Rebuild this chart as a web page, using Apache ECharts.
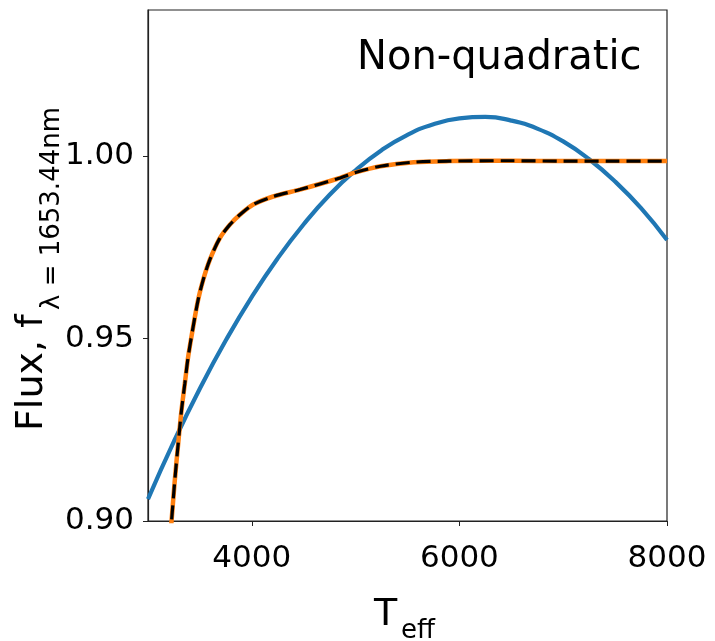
<!DOCTYPE html>
<html>
<head>
<meta charset="utf-8">
<script src="https://cdn.jsdelivr.net/npm/echarts@6/dist/echarts.min.js"></script>
<style>
  html, body { margin: 0; padding: 0; background: #fff; }
  #chart { width: 715px; height: 641px; }
</style>
</head>
<body>
<div id="chart"></div>
<script>
// quadratic fit (blue)
const teffQuad = [3000, 3250, 3500, 3750, 4000, 4250, 4500, 4750, 5000, 5250, 5500,
                  5750, 6000, 6250, 6500, 6750, 7000, 7250, 7500, 7750, 8000];
const fluxQuad = [0.9060, 0.9218, 0.9363, 0.9495, 0.9614, 0.9720, 0.9813, 0.9894, 0.9961, 1.0016, 1.0058,
                  1.0087, 1.0103, 1.0107, 1.0097, 1.0075, 1.0040, 0.9991, 0.9930, 0.9857, 0.9770];

// non-quadratic model (orange + black dashed)
const teffFit = [3195, 3226, 3258, 3291, 3323, 3355, 3387, 3435, 3483, 3532, 3596, 3692, 3789,
                 3885, 4014, 4206, 4464, 4818, 5000, 5240, 5560, 5900, 6500, 7000, 7500, 8000];
const fluxFit = [0.889, 0.8997, 0.9111, 0.9212, 0.9304, 0.9377, 0.9450, 0.9532, 0.9606, 0.9661, 0.9716, 0.9775, 0.9812,
                 0.9839, 0.9867, 0.9889, 0.9908, 0.9937, 0.9955, 0.9972, 0.9983, 0.9986, 0.9987, 0.9986, 0.9986, 0.9986];

const xTicks = [4000, 6000, 8000];
const yTicks = [0.90, 0.95, 1.00];

const font = 'DejaVu Sans';
const pairs = (xs, ys) => xs.map((x, i) => [x, ys[i]]);

const chart = echarts.init(document.getElementById('chart'));
chart.setOption({
  animation: false,
  grid: {
    left: 148, right: 48, top: 10, bottom: 120,
    show: true, borderColor: '#222', borderWidth: 1.2, backgroundColor: 'transparent'
  },
  xAxis: {
    type: 'value', min: 3000, max: 8000,
    axisLine: { show: true, lineStyle: { color: '#222', width: 1.2 } },
    axisTick: { show: true, length: 5, customValues: xTicks, lineStyle: { color: '#222' } },
    axisLabel: {
      customValues: xTicks, color: '#000', fontSize: 31, fontFamily: font, margin: 22,
      formatter: v => String(v)
    },
    splitLine: { show: false }
  },
  yAxis: {
    type: 'value', min: 0.9, max: 1.04,
    axisLine: { show: true, lineStyle: { color: '#222', width: 1.2 } },
    axisTick: { show: true, length: 5, customValues: yTicks, lineStyle: { color: '#222' } },
    axisLabel: {
      customValues: yTicks, color: '#000', fontSize: 31, fontFamily: font, margin: 14,
      formatter: v => v.toFixed(2)
    },
    splitLine: { show: false }
  },
  graphic: [
    { type: 'text', left: 357, top: 39, style: { text: 'Non-quadratic', fontSize: 40, fontFamily: font, fill: '#000' } },
    { type: 'text', x: 374, y: 615, style: { text: 'T', fontSize: 38, fontFamily: font, fill: '#000', textVerticalAlign: 'middle' } },
    { type: 'text', x: 401, y: 631, style: { text: 'eff', fontSize: 26, fontFamily: font, fill: '#000', textVerticalAlign: 'middle' } },
    { type: 'text', x: 32, y: 431, rotation: Math.PI / 2,
      style: { text: 'Flux, f', fontSize: 38, fontFamily: font, fill: '#000', textAlign: 'left', textVerticalAlign: 'middle' } },
    { type: 'text', x: 52, y: 310, rotation: Math.PI / 2,
      style: { text: 'λ = 1653.44nm', fontSize: 26, fontFamily: font, fill: '#000', textAlign: 'left', textVerticalAlign: 'middle' } }
  ],
  series: [
    {
      type: 'line', data: pairs(teffQuad, fluxQuad), smooth: true, showSymbol: false, clip: true,
      lineStyle: { color: '#1f77b4', width: 4.2 }
    },
    {
      type: 'line', data: pairs(teffFit, fluxFit), smooth: 0.3, showSymbol: false, clip: true,
      lineStyle: { color: '#ff7f0e', width: 4.5 }
    },
    {
      type: 'line', data: pairs(teffFit, fluxFit), smooth: 0.3, showSymbol: false, clip: true,
      lineStyle: { color: '#000', width: 3.2, type: [14, 7] }
    }
  ]
});
</script>
</body>
</html>
